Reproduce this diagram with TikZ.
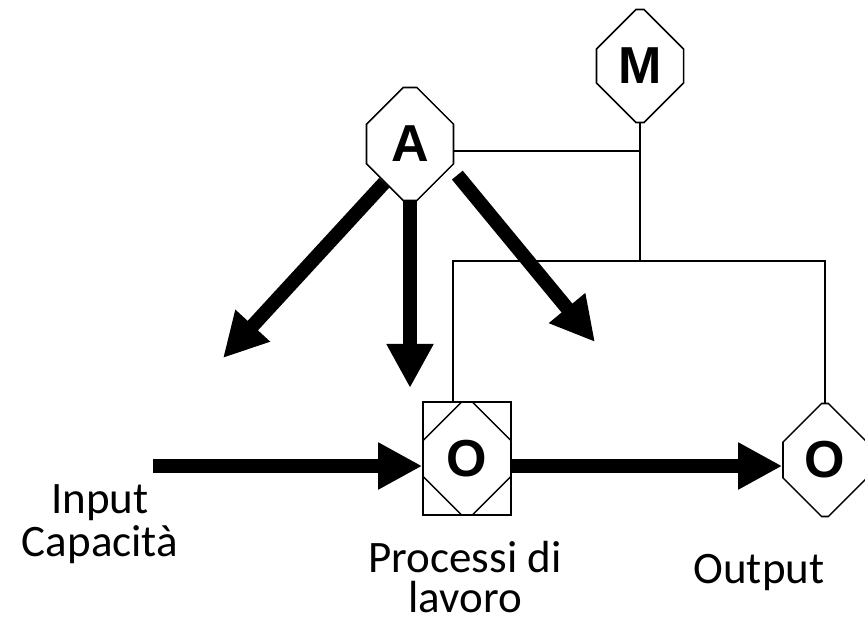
\documentclass[tikz,border=0pt]{standalone}
\usepackage{fontspec}
\setmainfont{Carlito}
\newfontfamily\boxfont{Liberation Sans}
\usetikzlibrary{positioning,arrows.meta,shapes.misc}

\tikzset{
  oct/.style={draw,line width=1.1pt,chamfered rectangle,chamfered rectangle sep=0.625cm,
    inner sep=0pt,minimum width=2.175cm,minimum height=2.825cm,
    font=\boxfont\bfseries\fontsize{37}{37}\selectfont},
  wire/.style={line width=1.1pt},
  fat/.style={line width=0.35cm,-{Triangle[length=1.1cm,width=1.1cm]}},
  lbl/.style={align=center,inner sep=0pt,font=\fontsize{32}{31}\selectfont},
}

\begin{document}
\begin{tikzpicture}[x=0.025cm,y=-0.025cm]
  \useasboundingbox (0,0) rectangle (865,623);
  % boxes
  \node[oct] (M) at (640,66) {M};
  \node[oct] (A) at (410,144) {A};
  \node[draw,line width=1.1pt,minimum width=2.2cm,minimum height=2.825cm,inner sep=0pt] (O1frame) at (467,458.5) {};
  \node[oct,chamfered rectangle sep=0.55cm,minimum width=2.2cm] (O1) at (467,458.5) {O};
  \node[oct,minimum width=2.1cm] (O2) at (825,460) {O};

  \coordinate (mA) at (640,151);
  \coordinate (bus) at (453,261);
  \coordinate (inp) at (153,466);
  \coordinate (tL) at (223,358);
  \coordinate (tD) at (410,388);
  \coordinate (tR) at (595,342);

  % thin wiring from M
  \draw[wire] (A.east |- mA) -- (mA);
  \draw[wire] (M.south) -- (M.south |- bus);
  \draw[wire] (O1frame.north -| bus) -- (bus) -- (bus -| O2.north) -- (O2.north);

  % thick arrows
  \draw[fat] (A.south west) -- (tL);
  \draw[fat] (A.south) -- (tD);
  \draw[fat] ([xshift=0.54cm,yshift=0.19cm]A.south east) -- (tR);
  \draw[fat] (inp) -- (inp -| O1frame.west);
  \draw[fat] (O1frame.east |- inp) -- (inp -| O2.west);

  % labels
  \node[lbl] (inlbl) at (100,524) {Input\\Capacità};
  \node[lbl] (proclbl) at (465,577) {Processi di\\[-3pt]lavoro};
  \node[lbl,anchor=base] (outlbl) at (759,583) {Output};
\end{tikzpicture}
\end{document}
